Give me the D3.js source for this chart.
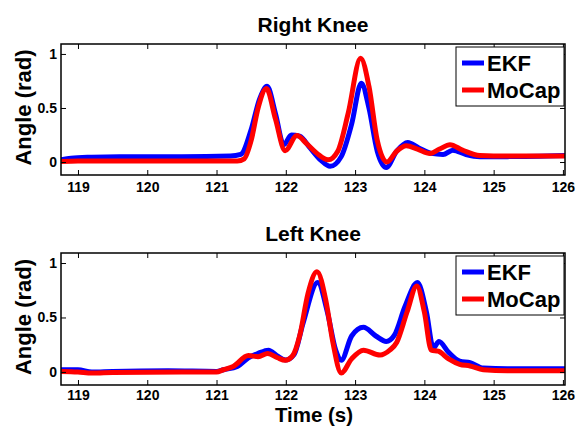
<!DOCTYPE html>
<html lang="en">
<head>
<meta charset="UTF-8">
<script src="https://d3js.org/d3.v7.min.js"></script>
<style>
  body { margin: 0; background: #fff; }
  svg text { font-family: "Liberation Sans", Arial, Helvetica, sans-serif; font-weight: bold; fill: #000; }
</style>
</head>
<body>
<div id="chart"></div>
<script>
// time ticks and y ticks
const timeTicks = [119, 120, 121, 122, 123, 124, 125, 126];
const angleTicks = [0, 0.5, 1];
const seriesNames = ["EKF", "MoCap"];
const seriesColors = ["#0000ff", "#ff0000"];

// [time (s), angle (rad)]
const rightEKF = [[118.75,0.02],[118.9,0.035],[119.2,0.045],[119.6,0.05],[120.5,0.05],[121.2,0.055],[121.35,0.07],
  [121.5,0.3],[121.62,0.58],[121.73,0.70],[121.85,0.45],[121.97,0.16],[122.08,0.25],[122.2,0.24],[122.35,0.13],
  [122.5,0.02],[122.64,-0.04],[122.8,0.05],[122.95,0.35],[123.09,0.73],[123.2,0.5],[123.32,0.1],[123.45,-0.05],
  [123.6,0.1],[123.76,0.18],[123.92,0.13],[124.1,0.08],[124.27,0.07],[124.41,0.11],[124.6,0.07],[124.8,0.05],
  [125.2,0.05],[126.03,0.06]];
const rightMoCap = [[118.75,0.005],[119.0,0.01],[119.5,0.01],[120.5,0.01],[121.3,0.01],[121.4,0.03],[121.5,0.2],
  [121.6,0.5],[121.72,0.68],[121.85,0.4],[121.99,0.105],[122.16,0.245],[122.3,0.17],[122.45,0.08],[122.61,0.02],
  [122.75,0.1],[122.9,0.45],[123.08,0.96],[123.2,0.7],[123.32,0.2],[123.46,0.0],[123.6,0.1],[123.74,0.15],
  [123.9,0.12],[124.08,0.08],[124.22,0.12],[124.37,0.16],[124.55,0.11],[124.8,0.06],[125.2,0.055],[126.03,0.055]];
const leftEKF = [[118.75,0.02],[119.0,0.02],[119.2,0.0],[119.5,0.005],[120.3,0.01],[121.0,0.005],[121.1,0.02],
  [121.3,0.05],[121.46,0.13],[121.6,0.17],[121.75,0.2],[121.87,0.15],[122.0,0.11],[122.12,0.16],[122.25,0.45],
  [122.46,0.82],[122.6,0.55],[122.72,0.2],[122.8,0.107],[122.95,0.33],[123.12,0.41],[123.3,0.33],[123.45,0.28],
  [123.57,0.34],[123.72,0.6],[123.9,0.82],[124.03,0.55],[124.13,0.22],[124.21,0.28],[124.35,0.18],[124.51,0.1],
  [124.66,0.085],[124.85,0.035],[125.2,0.03],[126.03,0.03]];
const leftMoCap = [[118.75,0.005],[119.0,0.0],[119.2,-0.01],[119.5,-0.005],[120.5,0.0],[121.0,0.0],[121.1,0.02],
  [121.24,0.05],[121.46,0.15],[121.6,0.14],[121.74,0.17],[121.88,0.13],[121.99,0.107],[122.1,0.15],[122.2,0.33],
  [122.32,0.72],[122.45,0.92],[122.58,0.65],[122.68,0.27],[122.8,-0.01],[122.95,0.12],[123.12,0.2],[123.36,0.155],
  [123.5,0.2],[123.6,0.27],[123.75,0.55],[123.89,0.79],[124.0,0.55],[124.1,0.2],[124.2,0.19],[124.35,0.12],
  [124.51,0.07],[124.66,0.055],[124.85,0.02],[125.2,0.01],[126.03,0.01]];

const width = 576, height = 426;
const svg = d3.select("#chart").append("svg")
  .attr("width", width).attr("height", height);

const x = d3.scaleLinear().domain([118.755, 126.03]).range([61, 565]);

const panels = [
  { title: "Right Knee", top: 44, bottom: 175, data: [rightEKF, rightMoCap], id: "r", pad: 7 },
  { title: "Left Knee", top: 253, bottom: 385, data: [leftEKF, leftMoCap], id: "l", pad: 5 }
];

panels.forEach(p => {
  const y = d3.scaleLinear().domain([-0.12, 1.092]).range([p.bottom, p.top]);
  const g = svg.append("g");

  g.append("clipPath").attr("id", "clip-" + p.id)
    .append("rect").attr("x", 61).attr("y", p.top).attr("width", 504).attr("height", p.bottom - p.top);

  const line = d3.line().x(d => x(d[0])).y(d => y(d[1])).curve(d3.curveMonotoneX);
  p.data.forEach((s, i) => {
    g.append("path").datum(s)
      .attr("clip-path", "url(#clip-" + p.id + ")")
      .attr("d", line)
      .attr("fill", "none")
      .attr("stroke", seriesColors[i])
      .attr("stroke-width", 5)
      .attr("stroke-linejoin", "round");
  });

  // axes, ticks pointing inward like matlab
  g.append("g").attr("transform", `translate(0,${p.bottom})`)
    .call(d3.axisBottom(x).tickValues(timeTicks).tickSize(-5).tickSizeOuter(0).tickPadding(p.pad).tickFormat(d3.format("d")));
  g.append("g").attr("transform", `translate(0,${p.top})`)
    .call(d3.axisTop(x).tickValues(timeTicks).tickSize(-5).tickSizeOuter(0).tickFormat(""));
  g.append("g").attr("transform", "translate(61,0)")
    .call(d3.axisLeft(y).tickValues(angleTicks).tickSize(-5).tickSizeOuter(0).tickPadding(4).tickFormat(d3.format("~g")));
  g.append("g").attr("transform", "translate(565,0)")
    .call(d3.axisRight(y).tickValues(angleTicks).tickSize(-5).tickSizeOuter(0).tickFormat(""));

  g.selectAll(".tick text").attr("font-size", 14);
  g.selectAll(".tick line").attr("stroke", "#000");
  g.selectAll(".domain").remove();

  g.append("rect").attr("x", 61).attr("y", p.top).attr("width", 504).attr("height", p.bottom - p.top)
    .attr("fill", "none").attr("stroke", "#000").attr("stroke-width", 1.5);

  g.append("text").attr("x", 313).attr("y", p.top - 12).attr("text-anchor", "middle")
    .attr("font-size", 21).text(p.title);

  g.append("text")
    .attr("transform", `translate(31,${(p.top + p.bottom) / 2 - 2}) rotate(-90)`)
    .attr("text-anchor", "middle").attr("font-size", 22).text("Angle (rad)");

  // legend
  const lg = g.append("g").attr("transform", `translate(456,${p.top + 3})`);
  lg.append("rect").attr("width", 108).attr("height", 59)
    .attr("fill", "#fff").attr("stroke", "#000").attr("stroke-width", 1);
  seriesNames.forEach((n, i) => {
    const ly = 16 + i * 27;
    lg.append("line").attr("x1", 6).attr("x2", 28).attr("y1", ly).attr("y2", ly)
      .attr("stroke", seriesColors[i]).attr("stroke-width", 5);
    lg.append("text").attr("x", 31).attr("y", ly + 8).attr("font-size", 22).text(n);
  });
});

svg.append("text").attr("x", 314).attr("y", 421.5).attr("text-anchor", "middle")
  .attr("font-size", 20.5).text("Time (s)");
</script>
</body>
</html>
